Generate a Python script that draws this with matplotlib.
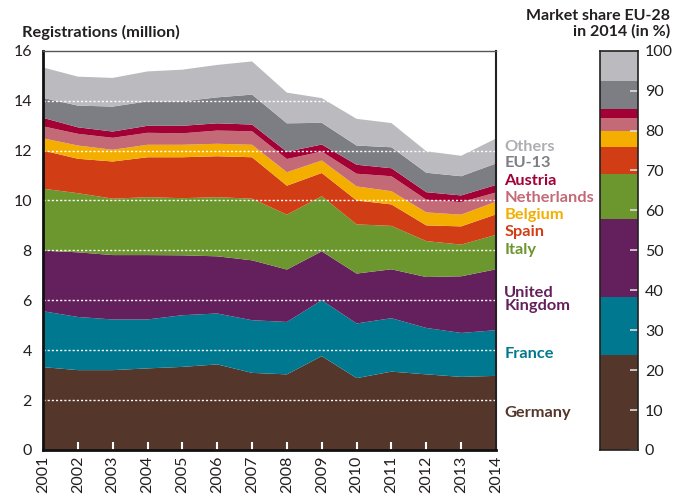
import matplotlib.pyplot as plt
import numpy as np

plt.rcParams['font.family'] = ['Lato', 'DejaVu Sans']

years = list(range(2001, 2015))
countries = ["Germany", "France", "United\nKingdom", "Italy", "Spain",
             "Belgium", "Netherlands", "Austria", "EU-13", "Others"]
colors = ["#54372a", "#00788f", "#64205c", "#6c962e", "#d13e16",
          "#f3ae00", "#c46a76", "#a30036", "#7d7e83", "#bbbabf"]

# cumulative tops (million), one list per band
top_germany = [3.32, 3.20, 3.20, 3.27, 3.33, 3.43, 3.09, 3.03, 3.76, 2.88, 3.14, 3.03, 2.93, 2.97]
top_france = [5.56, 5.33, 5.23, 5.23, 5.40, 5.47, 5.20, 5.13, 6.00, 5.07, 5.28, 4.89, 4.69, 4.80]
top_uk = [7.99, 7.92, 7.81, 7.81, 7.80, 7.76, 7.60, 7.23, 7.96, 7.07, 7.24, 6.93, 6.96, 7.24]
top_italy = [10.47, 10.29, 10.07, 10.13, 10.09, 10.13, 10.07, 9.43, 10.17, 9.04, 8.98, 8.37, 8.23, 8.62]
top_spain = [12.00, 11.67, 11.56, 11.73, 11.73, 11.77, 11.73, 10.59, 11.10, 10.00, 9.84, 9.00, 8.96, 9.44]
top_belgium = [12.49, 12.20, 12.03, 12.23, 12.23, 12.27, 12.23, 11.13, 11.60, 10.56, 10.37, 9.52, 9.43, 9.95]
top_netherlands = [12.97, 12.67, 12.51, 12.71, 12.69, 12.80, 12.77, 11.66, 11.96, 11.07, 10.97, 10.03, 9.93, 10.32]
top_austria = [13.31, 12.93, 12.76, 12.99, 12.99, 13.09, 13.04, 11.95, 12.24, 11.43, 11.29, 10.33, 10.20, 10.62]
top_eu13 = [14.11, 13.80, 13.76, 13.97, 13.97, 14.13, 14.24, 13.09, 13.11, 12.20, 12.13, 11.11, 10.97, 11.48]
top_others = [15.33, 14.96, 14.91, 15.17, 15.24, 15.43, 15.57, 14.32, 14.10, 13.27, 13.10, 11.97, 11.79, 12.48]

# market share EU-28 in 2014 (%)
share_2014 = [23.9, 14.4, 19.6, 11.3, 6.8, 3.9, 3.2, 2.2, 7.1, 7.6]

tops = np.array([top_germany, top_france, top_uk, top_italy, top_spain,
                 top_belgium, top_netherlands, top_austria, top_eu13, top_others])
values = np.diff(np.vstack([np.zeros(len(years)), tops]), axis=0)

text_color = "#231f20"
fig = plt.figure(figsize=(6.75, 4.97), dpi=100)
ax = fig.add_axes([0.0637, 0.0946, 0.6711, 0.8034])
ax.stackplot(years, values, colors=colors, linewidth=0)

for y in range(2, 16, 2):
    ax.axhline(y, color="white", lw=1, ls=(0, (1.5, 1.5)), zorder=3)

ax.set_xlim(2001, 2014)
ax.set_ylim(0, 16)
ax.set_yticks(range(0, 17, 2))
ax.set_xticks(years)
ax.set_xticklabels([str(y) for y in years], rotation=90)
ax.tick_params(axis="y", length=0, pad=8, labelsize=11.5, labelcolor=text_color)
ax.tick_params(axis="x", direction="in", length=6, width=1.5, color="white",
               pad=4, labelsize=11.5, labelcolor=text_color)
ax.xaxis.get_major_ticks()[0].tick1line.set_visible(False)
ax.xaxis.get_major_ticks()[-1].tick1line.set_visible(False)
for s in ["left", "bottom"]:
    ax.spines[s].set_linewidth(2)
    ax.spines[s].set_color("#111111")
ax.spines["right"].set_linewidth(1.5)
ax.spines["right"].set_color("#222222")
ax.spines["top"].set_linewidth(1)
ax.spines["top"].set_color("#555555")
for s in ax.spines.values():
    s.set_zorder(5)

# labels to the right of the plot
label_y = [1.49, 3.84, 6.04, 8.0, 8.72, 9.4, 10.08, 10.76, 11.48, 12.16]
label_colors = ["#54372a", "#00788f", "#64205c", "#6c962e", "#d13e16",
                "#f3ae00", "#c46a76", "#a30036", "#7d7e83", "#aeadb2"]
trans = ax.get_yaxis_transform()
for name, yy, c in zip(countries, label_y, label_colors):
    ax.text(1.018, yy, name, transform=trans, color=c, fontsize=11.8,
            fontweight="bold", va="center", ha="left", linespacing=0.95)

fig.text(0.0326, 0.9356, "Registrations (million)", fontsize=11.8,
         fontweight="bold", color=text_color, va="center", ha="left")
fig.text(0.9926, 0.952, "Market share EU-28\nin 2014 (in %)", fontsize=11.5,
         fontweight="bold", color=text_color, va="center", ha="right",
         linespacing=1.15)

# market share bar
ax2 = fig.add_axes([0.889, 0.0946, 0.056, 0.8034])
bottom = 0
for sh, c in zip(share_2014, colors):
    ax2.bar(0, sh, bottom=bottom, width=1, color=c, linewidth=0)
    bottom += sh
ax2.set_xlim(-0.5, 0.5)
ax2.set_ylim(0, 100)
ax2.set_xticks([])
ax2.set_yticks(range(0, 101, 10))
ax2.yaxis.tick_right()
ax2.tick_params(axis="y", direction="in", length=6, width=1.2, color="#dddddd",
                pad=5, labelsize=11.5, labelcolor=text_color)
for s in ax2.spines.values():
    s.set_linewidth(1.2)
    s.set_color("#222222")

fig.savefig("out.png", dpi=100)
